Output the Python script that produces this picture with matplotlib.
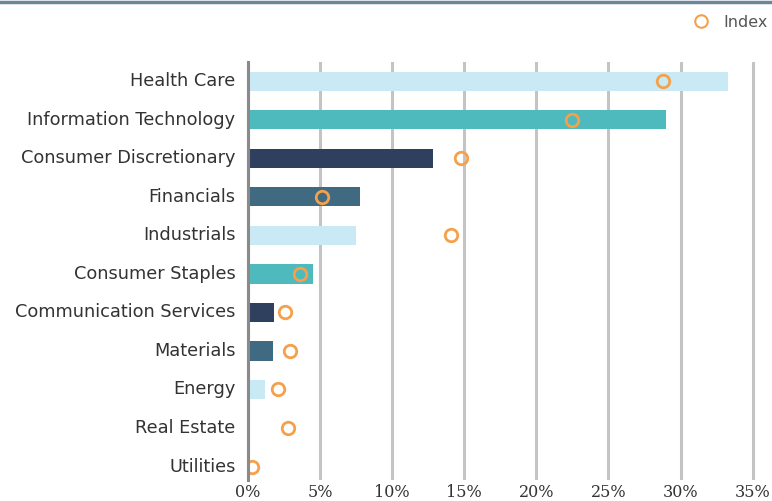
import matplotlib.pyplot as plt
import matplotlib.transforms as mtransforms
from matplotlib.lines import Line2D

# sector weights (%), portfolio vs index
sectors = ["Health Care", "Information Technology", "Consumer Discretionary",
           "Financials", "Industrials", "Consumer Staples",
           "Communication Services", "Materials", "Energy",
           "Real Estate", "Utilities"]
portfolio = [33.3, 29.0, 12.8, 7.8, 7.5, 4.5, 1.8, 1.7, 1.2, 0.0, 0.0]
index = [28.8, 22.5, 14.8, 5.1, 14.1, 3.6, 2.6, 2.9, 2.1, 2.8, 0.3]
xticks = [0, 5, 10, 15, 20, 25, 30, 35]

palette = ["#c9eaf5", "#4fbabd", "#2f3f5e", "#3f6a82"]
colors = [palette[i % 4] for i in range(len(sectors))]

fig = plt.figure(figsize=(7.72, 5.01), dpi=100)
ax = fig.add_axes([248 / 772, 1 - 480 / 501, (767 - 248) / 772, (480 - 62) / 501])

pos = list(range(len(sectors)))
ax.barh(pos, portfolio, height=0.5, color=colors, zorder=2)
ax.plot(index, pos, linestyle="none", marker="o", markersize=9,
        markerfacecolor="none", markeredgecolor="#f5a04a", markeredgewidth=2,
        zorder=3)

ax.set_xlim(0, 36)
ax.set_ylim(10.35, -0.5)
ax.set_xticks(xticks)
ax.set_xticklabels([f"{t}%" for t in xticks], family="DejaVu Serif",
                   fontsize=11.5, color="#333333")
ax.set_yticks(pos)
ax.set_yticklabels(sectors, family="DejaVu Sans", fontsize=12.8, color="#333333")
ax.tick_params(axis="both", length=0)
ax.tick_params(axis="y", pad=9)
ax.tick_params(axis="x", pad=3)

# nudge category labels up a little
shift = mtransforms.ScaledTranslation(0, 2 / 100, fig.dpi_scale_trans)
for lbl in ax.get_yticklabels():
    lbl.set_transform(lbl.get_transform() + shift)

ax.grid(axis="x", color="#c4c4c4", linewidth=2.2, zorder=0)
ax.set_axisbelow(True)
for s in ["top", "right", "bottom"]:
    ax.spines[s].set_visible(False)
ax.spines["left"].set_color("#8a8a8a")
ax.spines["left"].set_linewidth(2.2)
ax.spines["left"].set_zorder(4)

# top rule
fig.add_artist(Line2D([0, 1], [0.997, 0.997], color="#6b8599", linewidth=2.5))

handle = Line2D([], [], linestyle="none", marker="o", markersize=9,
                markerfacecolor="none", markeredgecolor="#f5a04a", markeredgewidth=1.5)
fig.legend([handle], ["Index"], loc="upper right", bbox_to_anchor=(1.007, 0.99),
           frameon=False, prop={"family": "DejaVu Sans", "size": 11.5},
           handletextpad=0.4, borderaxespad=0.2, labelcolor="#555555")

fig.savefig("out.png", dpi=100)
